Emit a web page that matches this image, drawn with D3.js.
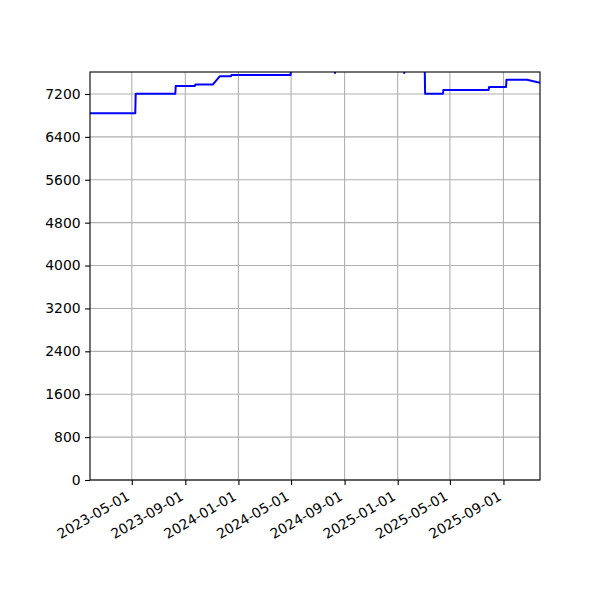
<!DOCTYPE html>
<html>
<head>
<meta charset="utf-8">
<script src="https://cdn.jsdelivr.net/npm/d3@7"></script>
<style>
  body { margin: 0; background: #fff; }
  text { font-family: "DejaVu Sans", sans-serif; font-size: 13.9px; fill: #000; }
</style>
</head>
<body>
<div id="chart"></div>
<script>
// Data (daily values, steps kept as day-to-day pairs)
const dates = [
  "2023-01-25", "2023-05-09", "2023-05-10", "2023-08-09", "2023-08-10",
  "2023-09-23", "2023-09-24", "2023-11-03", "2023-11-19", "2023-12-15",
  "2023-12-16", "2024-04-30", "2024-05-01", "2024-08-09", "2024-08-10",
  "2024-08-11", "2025-01-15", "2025-01-16", "2025-01-17", "2025-03-04",
  "2025-03-05", "2025-04-15", "2025-04-16", "2025-07-29", "2025-07-30",
  "2025-09-07", "2025-09-08", "2025-10-25", "2025-11-24"
];
const values = [
  6840, 6840, 7205, 7205, 7350,
  7350, 7375, 7375, 7530, 7530,
  7555, 7555, 7780, 7780, 7590,
  7780, 7780, 7590, 7780, 7780,
  7205, 7205, 7275, 7275, 7330,
  7330, 7467, 7467, 7411
];
const yTicks = [0, 800, 1600, 2400, 3200, 4000, 4800, 5600, 6400, 7200];
const xTickLabels = [
  "2023-05-01", "2023-09-01", "2024-01-01", "2024-05-01",
  "2024-09-01", "2025-01-01", "2025-05-01", "2025-09-01"
];
const yMax = 7610;

// Layout (matplotlib-like figure 600x600)
const margin = { top: 72, right: 60, bottom: 120, left: 90 },
      width = 600 - margin.left - margin.right,
      height = 600 - margin.top - margin.bottom;

const parse = d3.utcParse("%Y-%m-%d");
const points = dates.map((d, i) => ({ date: parse(d), value: values[i] }));

const svg = d3.select("#chart").append("svg")
    .attr("width", 600)
    .attr("height", 600);

const g = svg.append("g")
    .attr("transform", "translate(" + margin.left + "," + margin.top + ")");

const x = d3.scaleUtc()
    .domain(d3.extent(points, d => d.date))
    .range([0, width]);

const y = d3.scaleLinear()
    .domain([0, yMax])
    .range([height, 0]);

const xTicks = xTickLabels.map(parse);

// Grid lines
g.append("g")
  .selectAll("line.vgrid")
  .data(xTicks)
  .enter().append("line")
    .attr("x1", d => x(d)).attr("x2", d => x(d))
    .attr("y1", 0).attr("y2", height)
    .attr("stroke", "#b0b0b0")
    .attr("stroke-width", 1.1);

g.append("g")
  .selectAll("line.hgrid")
  .data(yTicks)
  .enter().append("line")
    .attr("x1", 0).attr("x2", width)
    .attr("y1", d => y(d)).attr("y2", d => y(d))
    .attr("stroke", "#b0b0b0")
    .attr("stroke-width", 1.1);

// Clip so the line is cut at the top of the axes
g.append("clipPath").attr("id", "clip")
  .append("rect").attr("width", width).attr("height", height);

const line = d3.line()
    .x(d => x(d.date))
    .y(d => y(d.value));

g.append("path")
    .datum(points)
    .attr("clip-path", "url(#clip)")
    .attr("fill", "none")
    .attr("stroke", "#0000ff")
    .attr("stroke-width", 2)
    .attr("stroke-linejoin", "round")
    .attr("d", line);

// Y axis
const yAxis = g.append("g")
    .call(d3.axisLeft(y).tickValues(yTicks).tickSize(4.9).tickPadding(4.5).tickFormat(d3.format("d")));
yAxis.select(".domain").remove();
yAxis.selectAll(".tick line").attr("stroke", "#000").attr("stroke-width", 1.1);
yAxis.selectAll("text").style("font-size", "13.9px").style("font-family", "DejaVu Sans");

// X axis with rotated labels
const xAxis = g.append("g")
    .attr("transform", "translate(0," + height + ")")
    .call(d3.axisBottom(x).tickValues(xTicks).tickSize(4.9).tickFormat(d3.utcFormat("%Y-%m-%d")));
xAxis.select(".domain").remove();
xAxis.selectAll(".tick line").attr("stroke", "#000").attr("stroke-width", 1.1);
xAxis.selectAll("text")
    .style("font-size", "13.9px")
    .style("font-family", "DejaVu Sans")
    .attr("text-anchor", "end")
    .attr("y", 0)
    .attr("dy", 0)
    .attr("transform", "translate(-1.5,19) rotate(-30)");

// Frame
g.append("rect")
    .attr("width", width)
    .attr("height", height)
    .attr("fill", "none")
    .attr("stroke", "#000")
    .attr("stroke-width", 1.1);
</script>
</body>
</html>
